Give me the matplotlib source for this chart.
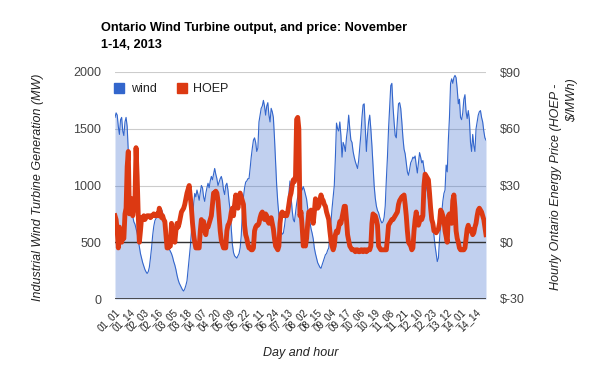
import matplotlib
matplotlib.use("Agg")
import matplotlib.pyplot as plt
from matplotlib.patches import Patch

plt.rcParams['font.family'] = ['Liberation Sans', 'DejaVu Sans']

# hourly wind output (MW), one row per day
wind = [
    1600, 1640, 1620, 1520, 1450, 1580, 1600, 1480, 1440, 1560, 1600, 1520, 1300, 1050, 850, 760, 730, 680, 660, 620, 580, 520, 460, 400,
    360, 320, 290, 260, 240, 225, 240, 280, 360, 450, 560, 640, 690, 710, 720, 740, 760, 770, 790, 760, 720, 700, 640, 560,
    500, 440, 420, 400, 370, 330, 300, 260, 210, 170, 140, 120, 100, 80, 70, 90, 120, 160, 260, 360, 460, 600, 720, 840,
    930, 900, 960, 920, 870, 940, 1000, 980, 900, 860, 930, 980, 1020, 980, 1040, 1080, 1050, 1100, 1150, 1100, 1060, 1000, 1030, 1060,
    1080, 1040, 960, 920, 1000, 1020, 960, 860, 780, 620, 480, 410, 380, 370, 360, 380, 400, 450, 560, 760, 900, 980, 1030, 1040,
    1060, 1060, 1150, 1250, 1330, 1400, 1420, 1380, 1300, 1330, 1560, 1620, 1680, 1700, 1750, 1700, 1620, 1700, 1730, 1620, 1560, 1680, 1650, 1600,
    1420, 1200, 1000, 850, 740, 680, 600, 570, 580, 640, 720, 760, 820, 930, 1040, 900, 780, 700, 680, 760, 840, 900, 960, 990,
    1000, 960, 990, 960, 920, 880, 800, 720, 680, 620, 580, 530, 450, 400, 360, 320, 300, 280, 270, 300, 330, 360, 390, 400,
    430, 450, 560, 680, 800, 900, 1000, 1250, 1550, 1500, 1480, 1560, 1440, 1250, 1380, 1350, 1300, 1420, 1500, 1620, 1500, 1400, 1380, 1300,
    1250, 1210, 1180, 1150, 1220, 1330, 1450, 1600, 1710, 1720, 1500, 1300, 1450, 1560, 1620, 1500, 1350, 1180, 1000, 890, 820, 780, 760, 720,
    690, 670, 680, 720, 820, 1050, 1250, 1500, 1700, 1880, 1900, 1700, 1560, 1440, 1420, 1580, 1720, 1730, 1680, 1560, 1420, 1320, 1280, 1200,
    1120, 1090, 1140, 1200, 1220, 1250, 1240, 1260, 1180, 1110, 1200, 1290, 1250, 1200, 1220, 1150, 1100, 990, 950, 880, 830, 760, 700, 650,
    560, 470, 400, 330, 360, 520, 650, 760, 860, 930, 960, 1180, 1120, 1400, 1600, 1900, 1940, 1900, 1950, 1970, 1950, 1850, 1720, 1760,
    1600, 1580, 1640, 1760, 1800, 1650, 1590, 1660, 1580, 1380, 1300, 1450, 1350, 1300, 1500, 1560, 1620, 1650, 1660, 1600, 1560, 1480, 1420, 1400,
]

# hourly Ontario energy price ($/MWh), one row per day
hoep = [
    14, 12, 6, -3, 8, 4, 0, 3, 2, 15, 18, 40, 48, 15, 22, 23, 14, 18, 22, 50, 35, 14, 0, 6,
    13, 12, 14, 12, 13, 14, 14, 14, 13, 14, 14, 15, 14, 14, 15, 14, 18, 16, 13, 14, 12, 11, 4, -3,
    -3, -2, -2, 10, 4, 5, 0, 6, 10, 8, 10, 13, 16, 17, 18, 20, 23, 26, 28, 30, 24, 18, 10, 4,
    0, -3, -3, -3, -3, 6, 12, 8, 11, 6, 4, 8, 8, 10, 12, 14, 20, 26, 26, 27, 26, 22, 14, 6,
    1, -1, -3, -3, -3, 6, 9, 10, 12, 16, 18, 14, 20, 25, 21, 18, 22, 26, 24, 22, 20, 9, 4, 2,
    -1, -3, -3, -4, -4, -3, 6, 8, 9, 9, 10, 13, 15, 16, 13, 12, 15, 14, 11, 10, 12, 13, 10, 7,
    2, -2, -3, -4, -2, 10, 15, 16, 15, 14, 15, 14, 16, 20, 24, 26, 30, 33, 32, 35, 65, 66, 60, 14,
    16, 8, -2, -1, -2, 2, 10, 16, 15, 17, 14, 10, 16, 23, 20, 18, 19, 22, 25, 23, 22, 20, 19, 16,
    14, 12, 6, 1, -2, -4, -2, 4, 6, 5, 8, 11, 10, 13, 16, 19, 19, 12, 4, 1, -2, -3, -4, -4,
    -4, -5, -4, -4, -5, -5, -4, -4, -5, -4, -4, -5, -4, -4, -4, -2, 10, 15, 14, 14, 12, 9, -2, -3,
    -4, -4, -4, -4, -4, -4, 2, 9, 10, 11, 12, 12, 13, 14, 15, 16, 20, 22, 23, 24, 24, 25, 20, 14,
    6, 0, -1, -2, -4, -3, 6, 12, 16, 12, 9, 11, 13, 12, 14, 30, 36, 35, 34, 33, 26, 18, 12, 10,
    6, 6, 5, 6, 7, 10, 17, 16, 14, 12, 6, 3, 0, 14, 15, 12, 10, 22, 25, 18, 6, 2, 0, -3,
    -4, -4, -4, -4, -3, 2, 7, 9, 6, 7, 6, 4, 5, 8, 10, 14, 17, 18, 17, 16, 14, 12, 8, 4,
]

hours = [f"{d:02d}_{h:02d}" for d in range(1, 15) for h in range(1, 25)]
tick_labels = ["01_01", "01_14", "02_03", "02_16", "03_05", "03_18", "04_07", "04_20",
               "05_09", "05_22", "06_11", "06_24", "07_13", "08_02", "08_15", "09_04",
               "09_17", "10_06", "10_19", "11_08", "11_21", "12_10", "12_23", "13_12",
               "14_01", "14_14"]
wind_ticks = [0, 500, 1000, 1500, 2000]
price_ticks = [-30, 0, 30, 60, 90]

blue = '#3366cc'
red = '#dc3912'

fig = plt.figure(figsize=(6, 3.71), dpi=100)
ax = fig.add_axes([115 / 600, 1 - 299 / 371, 371 / 600, 227 / 371])
x = list(range(len(hours)))

ax.fill_between(x, wind, 0, color=blue, alpha=0.3, lw=0)
ax.plot(x, wind, color=blue, lw=0.8)
ax.set_xlim(0, len(hours) - 1)
ax.set_ylim(0, 2000)
ax.set_yticks(wind_ticks)
ax.grid(axis='y', color='#cccccc', lw=0.8)
ax.set_axisbelow(True)
ax.axhline(0, color='#333333', lw=1.2, zorder=5)
for s in ax.spines.values():
    s.set_visible(False)
ax.tick_params(axis='y', length=0, labelsize=9, labelcolor='#444444', pad=10)
ax.set_xticks([hours.index(t) for t in tick_labels])
ax.set_xticklabels(tick_labels, rotation=45, ha='right', rotation_mode='anchor',
                   fontsize=7, color='#222222')
ax.tick_params(axis='x', length=0, pad=6)

ax2 = ax.twinx()
ax2.axhline(0, color='#333333', lw=1.0, zorder=1)
ax2.plot(x, hoep, color=red, lw=3.5, solid_joinstyle='round', zorder=3)
ax2.set_ylim(-30, 90)
ax2.set_yticks(price_ticks)
ax2.set_yticklabels(['\\$' + str(v) for v in price_ticks])
for s in ax2.spines.values():
    s.set_visible(False)
ax2.tick_params(axis='y', length=0, labelsize=9, labelcolor='#444444', pad=10)

handles = [Patch(color=blue), Patch(color=red)]
ax2.legend(handles, ['wind', 'HOEP'], loc='upper left', bbox_to_anchor=(-0.032, 1.0),
           ncol=2, frameon=False, fontsize=9, handlelength=0.8, handleheight=0.8,
           handletextpad=0.5, columnspacing=1.6, labelcolor='#222222')

fig.text(101 / 600, 1 - 22 / 371, "Ontario Wind Turbine output, and price: November\n1-14, 2013",
         fontsize=9.2, fontweight='bold', ha='left', va='top', linespacing=1.6)
fig.text(38 / 600, 1 - 187 / 371, "Industrial Wind Turbine Generation (MW)",
         rotation=90, style='italic', fontsize=9, ha='center', va='center', color='#222222')
fig.text(556 / 600, 1 - 187 / 371, "Hourly Ontario Energy Price (HOEP -",
         rotation=90, style='italic', fontsize=9, ha='center', va='center', color='#222222')
fig.text(572 / 600, 1 - 78 / 371, "\\$/MWh)",
         rotation=90, style='italic', fontsize=9, ha='center', va='top', color='#222222')
fig.text(301 / 600, 1 - 353 / 371, "Day and hour", style='italic', fontsize=9,
         ha='center', va='center', color='#222222')

fig.savefig("out.png", dpi=100)
